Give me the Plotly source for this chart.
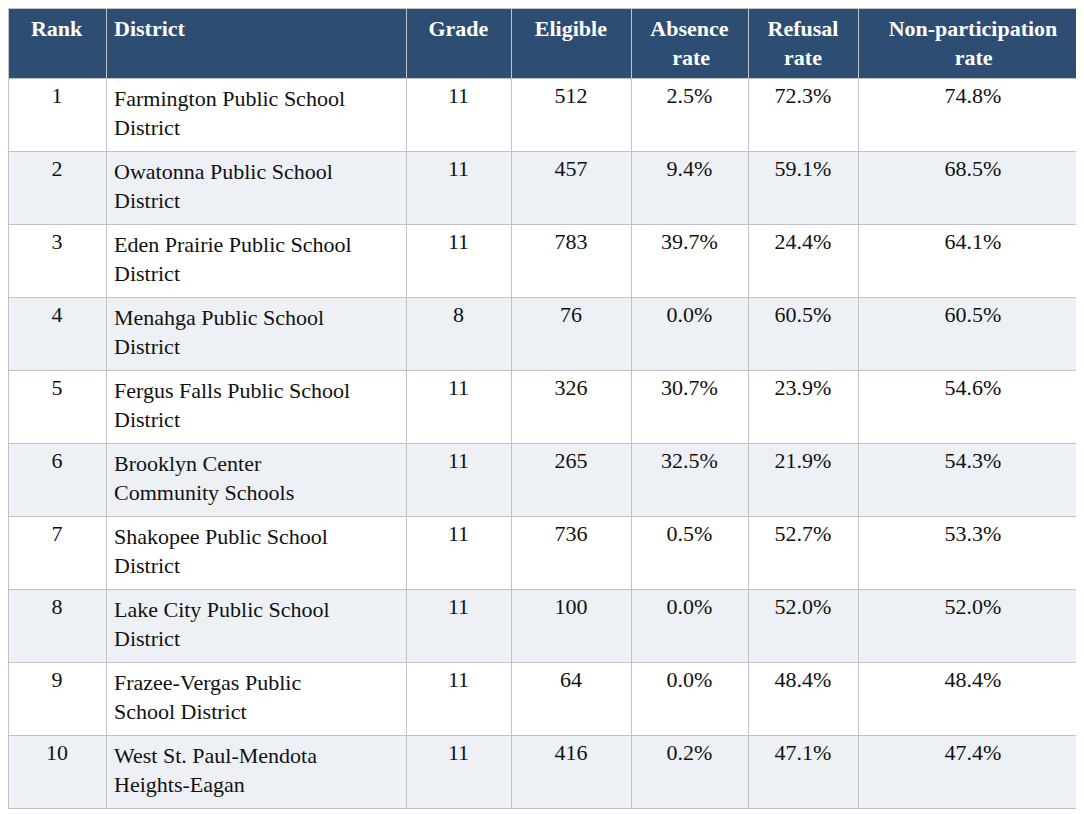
import plotly.graph_objects as go

pad = "&nbsp;"
headers = ["Rank", "District", "Grade", "Eligible",
           "Absence<br>" + pad * 4 + "rate",
           "Refusal<br>" + pad * 3 + "rate",
           "Non-participation<br>" + pad * 12 + "rate"]
rank = [1, 2, 3, 4, 5, 6, 7, 8, 9, 10]
district = [
    "Farmington Public School<br>District",
    "Owatonna Public School<br>District",
    "Eden Prairie Public School<br>District",
    "Menahga Public School<br>District",
    "Fergus Falls Public School<br>District",
    "Brooklyn Center<br>Community Schools",
    "Shakopee Public School<br>District",
    "Lake City Public School<br>District",
    "Frazee-Vergas Public<br>School District",
    "West St. Paul-Mendota<br>Heights-Eagan",
]
grade = [11, 11, 11, 8, 11, 11, 11, 11, 11, 11]
eligible = [512, 457, 783, 76, 326, 265, 736, 100, 64, 416]
absence = ["2.5%", "9.4%", "39.7%", "0.0%", "30.7%", "32.5%", "0.5%", "0.0%", "0.0%", "0.2%"]
refusal = ["72.3%", "59.1%", "24.4%", "60.5%", "23.9%", "21.9%", "52.7%", "52.0%", "48.4%", "47.1%"]
nonpart = ["74.8%", "68.5%", "64.1%", "60.5%", "54.6%", "54.3%", "53.3%", "52.0%", "48.4%", "47.4%"]

row_fill = ["#ffffff" if i % 2 == 0 else "#edf1f6" for i in range(len(rank))]
align = ["center", "left", "center", "center", "center", "center", "center"]

fig = go.Figure(go.Table(
    columnwidth=[98, 300, 105, 120, 117, 110, 230],
    header=dict(
        values=[f"<b>{h}</b>" for h in headers],
        fill_color="#2e4d73",
        line_color="#c0c4c8",
        align=align,
        font=dict(family="Liberation Serif", size=22, color="white"),
        height=70,
    ),
    cells=dict(
        values=[rank, district, grade, eligible, absence, refusal, nonpart],
        fill_color=[row_fill] * 7,
        line_color="#c0c4c8",
        align=align,
        font=dict(family="Liberation Serif", size=22, color="#111111"),
        height=73,
    ),
))

fig.update_layout(
    width=1084,
    height=814,
    margin=dict(l=0, r=4, t=0, b=0),
    paper_bgcolor="white",
)

fig.write_html("out.html")
